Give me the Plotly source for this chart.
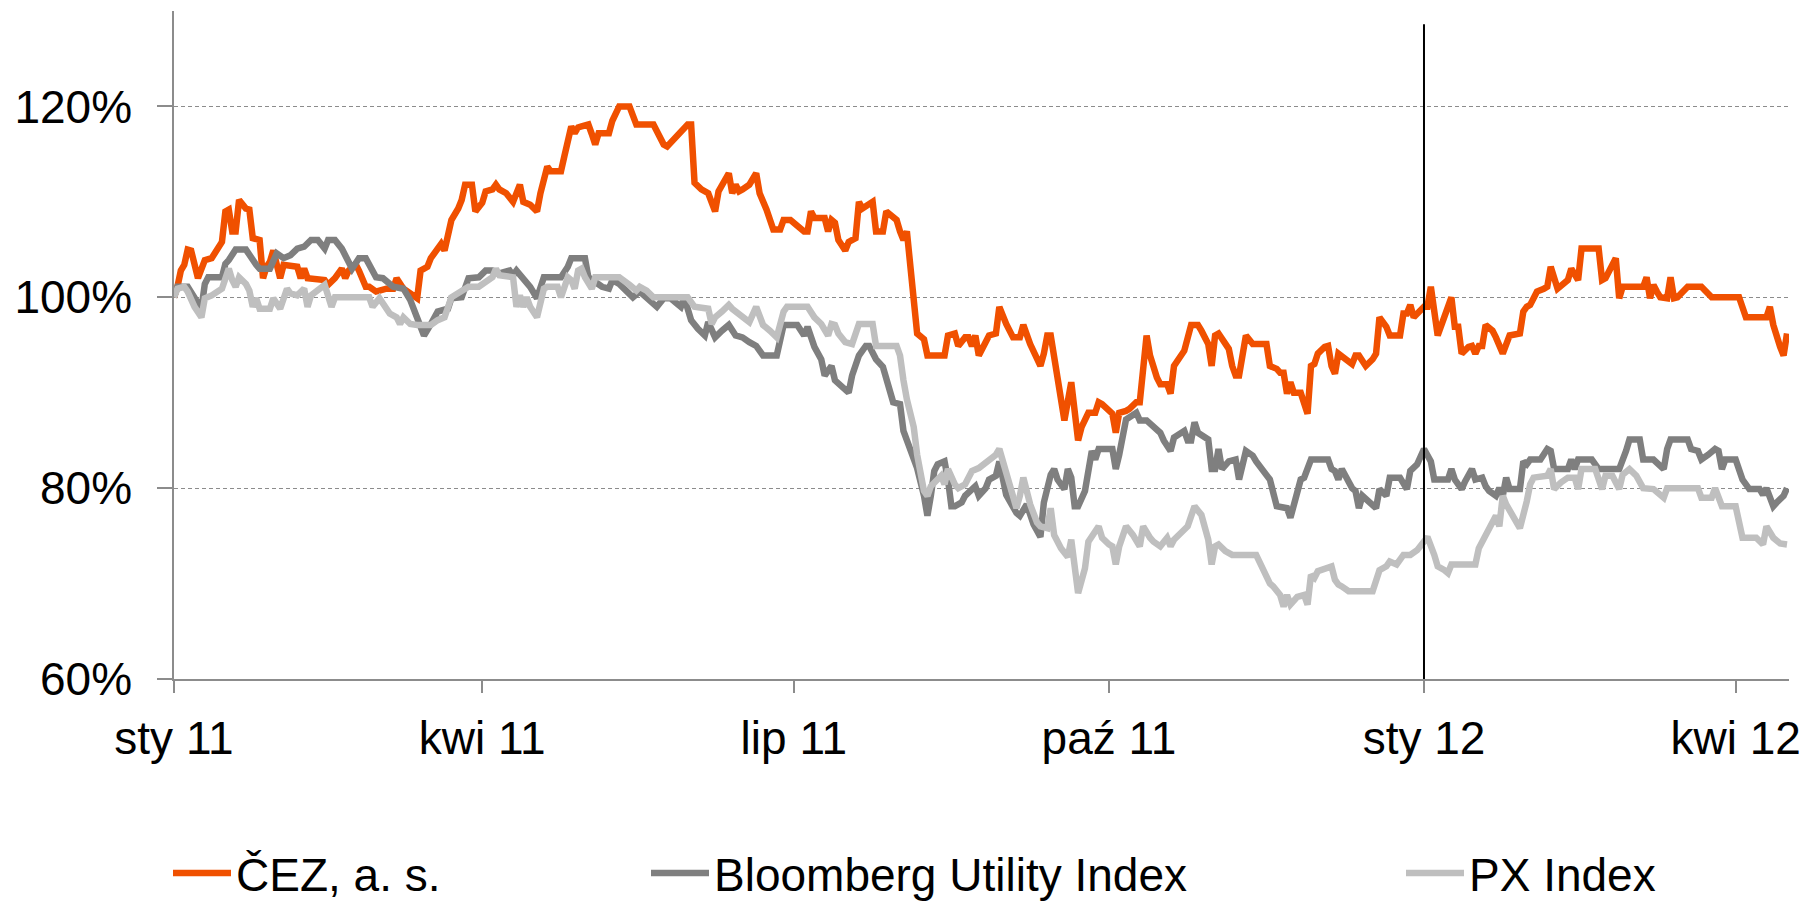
import pandas as pd
import plotly.graph_objects as go

START = pd.Timestamp("2011-01-01")

# [days since 2011-01-01, % of starting value]
cez = [[0,100.0],[1,101.1],[2,102.8],[3,103.4],[4,105.0],[5,104.9],[7,102.0],[9,103.9],[11,104.1],[13,105.3],[14,105.8],[15,109.0],[16,109.2],[17,106.9],[18,106.9],[19,110.2],[21,109.3],[22,109.2],[23,106.2],[25,106.0],[26,102.0],[27,103.2],[28,103.7],[29,104.9],[30,103.5],[31,102.0],[32,103.4],[36,103.2],[37,102.0],[38,103.0],[39,102.0],[43,101.8],[44,101.8],[45,101.3],[46,101.6],[47,102.0],[49,103.0],[50,102.0],[51,102.8],[53,103.5],[54,102.8],[56,101.1],[57,101.1],[59,100.6],[60,100.7],[62,100.9],[64,100.9],[65,102.0],[67,100.9],[69,100.4],[71,99.9],[72,102.8],[74,103.2],[75,104.1],[77,105.3],[78,105.6],[79,104.9],[80,106.4],[81,108.1],[83,109.3],[84,110.2],[85,111.8],[87,111.8],[88,109.0],[90,109.9],[91,111.1],[93,111.3],[94,111.8],[95,111.3],[97,110.9],[99,110.0],[101,111.8],[102,110.0],[104,109.7],[106,109.0],[107,110.9],[109,113.7],[110,113.2],[113,113.2],[114,114.8],[116,117.9],[117,117.2],[118,117.8],[119,117.9],[121,118.1],[122,117.1],[123,116.0],[124,117.2],[127,117.2],[128,118.5],[130,120.0],[133,120.0],[135,118.1],[140,118.1],[143,116.0],[144,115.8],[146,116.5],[148,117.2],[150,118.1],[151,118.1],[152,112.0],[154,111.3],[156,110.9],[158,109.0],[159,111.1],[162,113.0],[163,110.9],[164,111.8],[165,111.1],[166,111.3],[168,111.8],[170,113.0],[171,110.9],[173,109.2],[175,107.1],[177,107.1],[178,108.1],[180,108.1],[182,107.6],[184,106.9],[185,106.9],[186,109.0],[187,108.3],[190,108.3],[191,106.9],[192,108.1],[193,107.8],[194,106.0],[196,104.9],[197,105.8],[199,106.2],[200,110.0],[201,109.3],[204,110.0],[205,106.9],[207,106.9],[208,109.0],[211,108.1],[212,106.9],[213,106.0],[214,106.9],[217,96.2],[219,95.6],[220,93.9],[225,93.9],[226,96.0],[228,96.2],[229,94.9],[231,95.8],[232,95.8],[233,94.9],[234,96.0],[235,93.9],[237,95.1],[238,96.0],[240,96.2],[241,99.0],[243,97.2],[245,95.8],[247,95.8],[248,97.1],[250,95.1],[253,92.8],[254,94.1],[255,96.0],[256,96.0],[258,92.0],[259,89.2],[260,87.1],[262,91.1],[264,85.0],[265,86.4],[267,87.9],[269,87.9],[270,89.0],[271,88.8],[273,88.1],[274,87.8],[275,85.8],[276,87.9],[278,88.1],[279,88.3],[281,89.0],[282,89.0],[284,96.0],[285,93.9],[287,91.6],[288,90.9],[290,90.9],[291,89.9],[292,92.8],[293,93.4],[294,93.7],[295,94.4],[297,97.1],[299,97.1],[300,96.5],[302,95.1],[303,92.8],[304,96.0],[305,96.2],[307,94.9],[308,94.6],[309,92.8],[310,91.8],[311,91.8],[313,96.0],[315,95.1],[319,95.1],[320,92.8],[322,92.5],[323,92.1],[324,92.1],[325,89.9],[326,91.1],[327,90.0],[329,90.0],[331,87.8],[332,92.8],[333,93.0],[334,94.1],[336,94.8],[337,94.9],[338,92.8],[339,92.0],[340,94.1],[342,93.5],[344,93.0],[345,93.9],[346,93.9],[348,92.8],[350,93.5],[351,94.1],[352,97.9],[354,96.9],[355,96.0],[358,96.0],[359,98.3],[360,98.3],[361,99.2],[362,97.9],[363,98.3],[365,99.0],[366,99.0],[367,101.1],[369,96.0],[371,97.9],[373,100.0],[374,96.9],[375,96.9],[376,94.1],[378,94.8],[379,94.9],[380,94.1],[381,94.9],[382,94.9],[383,97.1],[385,96.5],[386,95.8],[388,94.1],[390,96.0],[393,96.2],[394,98.5],[395,99.0],[396,99.2],[397,99.9],[398,100.6],[400,100.9],[401,101.1],[402,103.2],[404,100.9],[407,101.8],[408,103.0],[410,101.8],[411,105.1],[416,105.1],[417,101.8],[418,102.0],[421,104.1],[422,99.9],[423,101.1],[429,101.1],[430,102.1],[431,99.9],[432,101.3],[433,100.6],[434,100.0],[436,99.9],[437,102.1],[438,99.9],[439,100.0],[442,101.1],[446,101.1],[449,100.0],[457,100.0],[459,97.9],[465,97.9],[466,99.0],[467,97.1],[469,94.8],[470,93.9],[471,96.2]]

bloomberg = [[0,100.0],[1,101.1],[4,101.1],[8,98.8],[9,101.4],[10,102.1],[14,102.1],[15,103.5],[16,103.9],[18,105.0],[21,105.0],[23,103.7],[24,103.4],[25,103.0],[28,103.0],[30,104.6],[32,104.1],[34,104.4],[36,105.1],[38,105.3],[40,106.0],[42,106.0],[44,105.1],[45,106.0],[47,106.0],[49,105.1],[51,103.7],[52,103.0],[54,104.1],[56,104.1],[59,102.1],[61,102.0],[64,101.1],[67,100.9],[69,99.7],[71,97.8],[73,96.0],[75,97.2],[77,98.5],[80,98.8],[81,99.9],[84,100.0],[86,102.0],[89,102.1],[91,102.8],[93,102.8],[95,102.5],[98,102.8],[99,102.3],[100,102.8],[102,102.0],[104,101.1],[106,99.9],[108,102.1],[113,102.1],[115,103.2],[116,104.1],[118,104.1],[120,104.1],[121,102.1],[123,101.6],[125,101.1],[127,100.9],[128,101.8],[130,101.4],[132,100.7],[134,100.0],[136,100.6],[138,99.9],[141,99.0],[143,99.9],[145,99.9],[147,99.3],[148,99.0],[149,100.0],[151,97.6],[153,96.7],[155,96.0],[156,97.4],[158,95.8],[160,96.5],[162,97.1],[164,96.0],[166,95.8],[168,95.3],[170,94.9],[172,93.9],[176,93.9],[178,97.1],[182,97.1],[184,96.0],[185,96.9],[187,94.8],[189,93.5],[190,91.8],[192,92.8],[193,91.3],[195,90.6],[197,90.0],[198,91.8],[200,93.9],[202,94.9],[203,94.9],[205,93.5],[207,92.7],[210,89.0],[212,88.8],[213,86.0],[217,82.1],[219,79.2],[220,77.1],[221,79.2],[222,81.8],[223,82.5],[225,82.8],[226,80.9],[227,78.1],[228,78.1],[230,78.5],[231,79.2],[234,80.2],[235,79.2],[237,80.0],[238,80.9],[240,81.3],[241,82.8],[242,81.3],[243,79.3],[246,77.4],[247,77.1],[249,78.3],[251,76.2],[253,74.9],[254,78.5],[256,81.4],[257,82.0],[258,80.9],[260,79.9],[261,82.0],[262,81.1],[263,78.1],[264,78.1],[266,79.7],[268,83.9],[269,83.0],[270,84.1],[274,84.1],[275,82.0],[276,83.5],[277,85.8],[278,87.2],[281,87.9],[282,87.1],[284,87.1],[286,86.5],[288,85.8],[289,85.0],[291,83.9],[292,85.3],[294,85.8],[295,86.0],[296,85.0],[297,85.0],[298,86.9],[299,85.8],[302,85.1],[303,82.0],[304,82.0],[305,84.1],[306,82.0],[308,82.8],[310,83.0],[311,80.9],[313,83.9],[315,83.4],[316,82.8],[318,81.8],[320,80.9],[322,78.1],[325,77.9],[326,76.9],[328,79.3],[329,80.9],[330,81.1],[332,83.0],[337,83.0],[338,82.0],[339,81.8],[340,80.9],[341,82.0],[344,80.0],[345,79.7],[346,77.9],[347,79.2],[349,78.5],[351,77.9],[352,79.9],[354,79.2],[355,81.1],[358,81.1],[360,79.9],[361,81.8],[363,82.5],[365,84.1],[367,82.8],[368,80.9],[372,80.9],[373,82.0],[374,80.9],[376,79.9],[377,80.7],[379,82.0],[380,80.9],[382,81.1],[383,80.2],[384,79.7],[386,79.2],[387,80.0],[388,79.2],[389,81.1],[390,79.9],[393,79.9],[394,82.8],[395,82.5],[396,83.0],[399,83.0],[401,84.1],[402,83.9],[403,82.0],[407,82.0],[408,83.0],[409,82.0],[410,83.0],[414,83.0],[416,82.0],[422,82.0],[424,83.9],[425,85.1],[428,85.1],[429,83.0],[432,83.0],[435,82.0],[436,84.1],[437,85.1],[442,85.1],[443,84.1],[445,83.9],[446,83.0],[448,83.5],[450,84.1],[451,83.9],[452,82.0],[453,83.0],[456,83.0],[458,80.9],[460,79.9],[463,79.9],[464,79.3],[465,80.0],[466,79.2],[467,78.1],[468,78.5],[470,79.2],[471,80.0]]

px_index = [[0,100.0],[1,100.9],[3,101.1],[4,100.6],[6,99.0],[8,97.9],[9,99.9],[11,100.2],[14,100.9],[16,103.0],[17,101.8],[18,101.1],[19,102.1],[21,101.4],[22,100.7],[23,99.0],[24,99.9],[25,98.8],[28,98.8],[29,99.9],[31,98.8],[33,100.9],[34,100.4],[36,100.2],[38,100.9],[39,99.0],[40,100.2],[42,100.7],[44,101.3],[46,99.0],[47,100.0],[57,100.0],[58,99.0],[60,99.9],[62,98.8],[63,98.3],[65,97.9],[66,97.2],[67,97.9],[69,97.2],[71,97.1],[75,97.1],[77,97.6],[79,97.9],[81,100.0],[82,100.2],[86,101.1],[89,101.1],[91,101.6],[93,102.1],[94,103.0],[95,102.3],[99,102.1],[100,99.0],[101,100.2],[102,99.0],[103,100.0],[104,99.0],[106,97.9],[108,100.9],[109,101.1],[112,101.1],[113,100.0],[115,102.1],[116,101.8],[117,100.9],[118,102.8],[119,103.0],[120,102.1],[122,100.9],[123,102.1],[130,102.1],[133,101.3],[135,100.7],[136,101.1],[138,100.7],[140,100.0],[150,100.0],[152,99.0],[156,98.8],[157,97.2],[158,97.9],[160,98.5],[162,99.2],[163,98.8],[165,98.3],[167,97.8],[168,97.4],[170,99.0],[172,97.1],[174,96.5],[176,95.8],[178,98.5],[179,99.0],[185,99.0],[187,97.9],[189,97.2],[191,96.0],[192,97.2],[193,97.1],[194,96.2],[196,95.3],[198,95.1],[200,97.2],[204,97.2],[205,94.9],[211,94.9],[212,93.9],[213,91.3],[214,89.3],[216,86.4],[217,83.5],[219,79.7],[220,79.2],[221,80.2],[223,80.9],[224,81.3],[225,80.4],[226,82.0],[228,80.4],[229,80.0],[231,80.4],[233,81.8],[235,82.1],[237,82.7],[240,83.5],[241,84.1],[242,82.8],[244,80.0],[246,77.9],[247,79.2],[248,81.1],[250,78.3],[252,76.4],[253,76.0],[255,75.8],[256,77.9],[257,75.1],[259,73.7],[261,72.8],[262,74.6],[264,69.0],[266,71.6],[267,74.4],[270,76.0],[271,74.8],[273,74.1],[274,73.9],[275,72.0],[276,73.9],[278,76.0],[280,75.1],[282,73.9],[283,76.0],[285,74.8],[286,74.4],[288,73.9],[290,74.8],[291,73.9],[292,74.6],[294,75.3],[296,76.0],[298,78.1],[300,77.2],[302,74.6],[303,72.0],[304,73.9],[305,74.1],[307,73.4],[309,73.0],[316,73.0],[318,71.3],[320,70.0],[321,69.7],[323,68.8],[324,67.6],[325,68.8],[326,67.8],[328,68.6],[330,68.8],[331,67.8],[332,70.9],[333,70.6],[334,71.3],[337,71.8],[338,71.8],[339,70.4],[340,69.9],[341,69.7],[343,69.2],[350,69.2],[352,71.4],[354,71.8],[355,72.3],[357,72.0],[359,73.0],[361,73.0],[363,73.5],[365,74.4],[366,74.9],[368,73.0],[369,71.8],[371,71.4],[372,71.1],[373,72.0],[380,72.0],[381,73.7],[383,75.1],[385,76.4],[386,77.1],[387,76.0],[388,79.2],[389,78.3],[391,77.2],[393,75.8],[395,78.6],[396,80.4],[397,81.1],[401,81.3],[402,82.0],[403,79.9],[405,80.6],[407,81.1],[409,81.1],[410,79.9],[411,82.0],[415,82.0],[417,79.9],[418,81.3],[420,81.3],[422,79.9],[423,81.4],[425,82.0],[427,81.3],[429,80.0],[432,79.9],[435,79.0],[436,80.0],[445,80.0],[446,79.0],[449,79.0],[450,80.0],[452,78.1],[456,78.1],[458,74.8],[462,74.8],[464,74.1],[465,76.0],[467,74.8],[469,74.2],[471,74.1]]

series_names = ["ČEZ, a. s.", "Bloomberg Utility Index", "PX Index"]
series_colors = ["#F05000", "#7F7F7F", "#BFBFBF"]

tick_dates = ["2011-01-01", "2011-04-01", "2011-07-01", "2011-10-01", "2012-01-01", "2012-04-01"]
tick_labels = ["sty 11", "kwi 11", "lip 11", "paź 11", "sty 12", "kwi 12"]
y_ticks = [60, 80, 100, 120]
y_tick_labels = ["60%", "80%", "100%", "120%"]
marker_date = "2012-01-01"

FONT = "Liberation Sans, Arial, sans-serif"
# page body adds an 8px offset; figure sized so the plot lands where the reference has it
OFF = 8
W, H = 1813 - OFF, 901 - OFF
ML, MR, MT, MB = 174 - OFF, 24, 11 - OFF, 222
PW = W - ML - MR
PH = H - MT - MB

fig = go.Figure()
legend_ids = ["legend", "legend2", "legend3"]
legend_px = [168, 646, 1401]
LEG_Y = 873
for data, name, color, lid in zip([cez, bloomberg, px_index], series_names, series_colors, legend_ids):
    dates = [START + pd.Timedelta(days=d) for d, _ in data]
    vals = [v for _, v in data]
    fig.add_trace(go.Scatter(x=dates, y=vals, mode="lines", name=name,
                             line=dict(color=color, width=6.5), legend=lid))

leg_common = dict(orientation="h", yanchor="middle", xanchor="left",
                  font=dict(family=FONT, size=46, color="#000000"),
                  bgcolor="rgba(0,0,0,0)", itemwidth=58, borderwidth=0)
layout_legends = {}
for lid, lpx in zip(legend_ids, legend_px):
    layout_legends[lid] = dict(x=(lpx - OFF - ML) / PW, y=1 - (LEG_Y - OFF - MT) / PH, **leg_common)

fig.add_shape(type="line", xref="x", yref="y", x0=marker_date, x1=marker_date,
              y0=60, y1=128.6, line=dict(color="#000000", width=2))

fig.update_layout(
    width=W, height=H,
    margin=dict(l=ML, r=MR, t=MT, b=MB, autoexpand=False),
    paper_bgcolor="white", plot_bgcolor="white",
    font=dict(family=FONT, size=46, color="#000000"),
    showlegend=True,
    **layout_legends,
    xaxis=dict(type="date", range=["2011-01-01", "2012-04-16 14:00"], automargin=False,
               tickmode="array", tickvals=tick_dates, ticktext=tick_labels,
               showgrid=False, zeroline=False, showline=True, linecolor="#8C8C8C", linewidth=1.5,
               ticks="outside", ticklen=12, tickcolor="#8C8C8C", tickwidth=1.5,
               ticklabelstandoff=6,
               tickfont=dict(family=FONT, size=46, color="#000000")),
    yaxis=dict(range=[60, 130], automargin=False, tickmode="array",
               tickvals=y_ticks, ticktext=y_tick_labels,
               showgrid=True, gridcolor="#8C8C8C", gridwidth=1, griddash="4px,3px",
               zeroline=False, showline=True, linecolor="#8C8C8C", linewidth=1.5,
               ticks="outside", ticklen=15, tickcolor="#8C8C8C", tickwidth=1.5,
               ticklabelstandoff=16,
               tickfont=dict(family=FONT, size=46, color="#000000")),
)

fig.write_html("out.html")
